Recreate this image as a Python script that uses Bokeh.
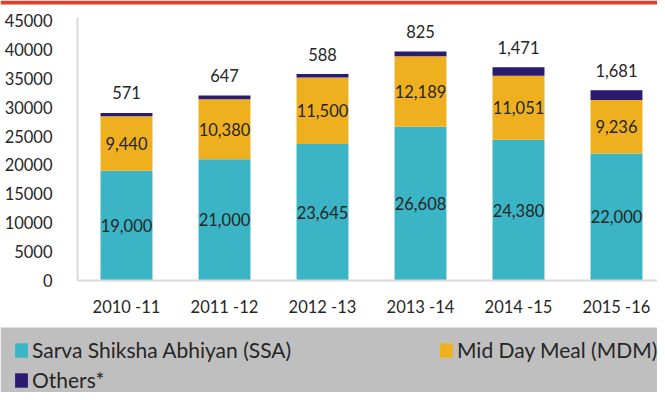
from bokeh.plotting import figure
from bokeh.models import (ColumnDataSource, Range1d, FixedTicker, SingleIntervalTicker,
                          Legend, LegendItem, BoxAnnotation)
from bokeh.core.properties import value
from bokeh.embed import file_html
from bokeh.resources import INLINE

years = ["2010 -11", "2011 -12", "2012 -13", "2013 -14", "2014 -15", "2015 -16"]
ssa = [19000, 21000, 23645, 26608, 24380, 22000]
mdm = [9440, 10380, 11500, 12189, 11051, 9236]
others = [571, 647, 588, 825, 1471, 1681]
y_ticks_interval = 5000

series_names = ["Sarva Shiksha Abhiyan (SSA)", "Mid Day Meal (MDM)", "Others*"]
colors = ["#3bb4c5", "#efb020", "#2a1a70"]

FONT = "Lato"
TXT = "#262626"
W, H = 657, 392

# layout (pixels inside the figure)
AX_X = 77          # y-axis line
CAT_W = 98         # width of a category slot
Y_TOP_PX, Y_ZERO_PX = 20, 280   # pixel rows of 45000 and 0
Y_MAX = 45000
px = Y_MAX / (Y_ZERO_PX - Y_TOP_PX)   # data units per pixel
GREY_TOP = 327

idx = list(range(len(years)))
src = ColumnDataSource(dict(
    x=idx, ssa=ssa, mdm=mdm, oth=others,
    ssa_mid=[s / 2 for s in ssa],
    mdm_mid=[s + m / 2 for s, m in zip(ssa, mdm)],
    total=[s + m + o for s, m, o in zip(ssa, mdm, others)],
    ssa_lbl=[f"{v:,}" for v in ssa],
    mdm_lbl=[f"{v:,}" for v in mdm],
    oth_lbl=[f"{v:,}" for v in others],
))

x_start = -0.5 - AX_X / CAT_W
x_end = x_start + W / CAT_W
y_end = Y_MAX + Y_TOP_PX * px
y_start = -(H - Y_ZERO_PX) * px

p = figure(width=W, height=H, toolbar_location=None, output_backend="svg",
           x_range=Range1d(x_start, x_end), y_range=Range1d(y_start, y_end),
           min_border=0)
p.outline_line_color = None
p.grid.visible = False
p.background_fill_color = "white"
p.border_fill_color = "white"

# grey legend strip and red top rule
p.add_layout(BoxAnnotation(top=H - GREY_TOP, top_units="screen",
                           fill_color="#bfbfbf", fill_alpha=1, line_color=None))
p.add_layout(BoxAnnotation(bottom=H - 4, bottom_units="screen",
                           fill_color="#e0402a", fill_alpha=1, line_color=None))

rs = p.vbar_stack(["ssa", "mdm", "oth"], x="x", width=0.53, source=src,
                  fill_color=colors, line_color=None)

common = dict(text_font=value(FONT), text_font_size="16.5px", text_color=TXT,
              text_align="center", text_baseline="middle")
p.text(x="x", y="ssa_mid", text="ssa_lbl", source=src, **common)
p.text(x="x", y="mdm_mid", text="mdm_lbl", source=src, **common)
p.text(x="x", y="total", text="oth_lbl", source=src, y_offset=-20, **common)

p.yaxis.ticker = SingleIntervalTicker(interval=y_ticks_interval)
p.yaxis.fixed_location = -0.5
p.yaxis.bounds = (0, Y_MAX + 3 * px)
p.xaxis.ticker = FixedTicker(ticks=idx)
p.xaxis.major_label_overrides = {i: y for i, y in zip(idx, years)}
p.xaxis.fixed_location = 0
p.xaxis.bounds = (-0.5, len(years) - 0.5)
for ax in (p.xaxis, p.yaxis):
    ax.axis_line_color = "#d9d9d9"
    ax.axis_line_width = 2
    ax.major_tick_line_color = None
    ax.minor_tick_line_color = None
    ax.major_label_text_font = FONT
    ax.major_label_text_font_size = "16.5px"
    ax.major_label_text_color = TXT
p.yaxis.major_label_standoff = 19
p.xaxis.major_label_standoff = 10

legend = Legend(items=[LegendItem(label=n, renderers=[r]) for n, r in zip(series_names, rs)],
                orientation="horizontal", ncols=2, location=(13, 0),
                margin=0, padding=0, spacing=5, label_width=401, label_standoff=3,
                glyph_width=16, glyph_height=18, label_height=18,
                label_text_font=FONT, label_text_font_size="21px", label_text_color=TXT,
                background_fill_alpha=0, border_line_color=None)
p.add_layout(legend, "center")

open("out.html", "w").write(file_html(p, INLINE))
